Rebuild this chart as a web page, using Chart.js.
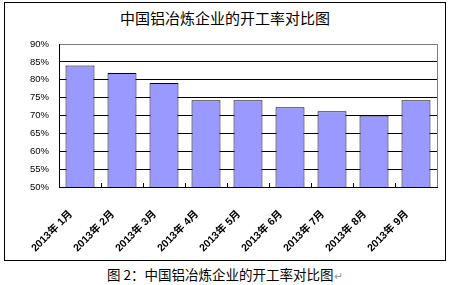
<!DOCTYPE html>
<html>
<head>
<meta charset="utf-8">
<script src="https://cdn.jsdelivr.net/npm/chart.js@4/dist/chart.umd.min.js"></script>
<style>
    body { margin: 0; width: 450px; height: 285px; background: #fff; position: relative; overflow: hidden; }
    #frame { position: absolute; left: 4px; top: 2px; width: 440px; height: 257px; border: 1px solid #000; }
    #frame canvas { display: block; }
    #title { position: absolute; left: 0; width: 450px; top: 9px; text-align: center;
        font: 15px "Noto Sans CJK SC", sans-serif; color: #000; line-height: 18px; }
    #caption { position: absolute; left: 107px; top: 265px;
        font: 13.5px "Noto Sans CJK SC", sans-serif; color: #000; line-height: 18px; white-space: nowrap; }
    #caption span { color: #999; font-size: 11px; }
</style>
</head>
<body>
<div id="title">中国铝冶炼企业的开工率对比图</div>
<div id="frame"><canvas id="rateChart" width="440" height="257"></canvas></div>
<div id="caption">图 2：中国铝冶炼企业的开工率对比图<span>↵</span></div>
<script>
// chart data
const months = ['2013年 1月', '2013年 2月', '2013年 3月', '2013年 4月', '2013年 5月',
    '2013年 6月', '2013年 7月', '2013年 8月', '2013年 9月'];
const utilization = [84.0, 81.9, 79.1, 74.3, 74.3, 72.3, 71.2, 70.0, 74.3];
const yMin = 50;
const yMax = 90;
const yStep = 5;

// small tick marks between categories (pointing into the plot) and grey right edge
const frameMarks = {
    id: 'frameMarks',
    afterDatasetsDraw(chart) {
        const { ctx, chartArea: a, scales: { x } } = chart;
        ctx.save();
        ctx.lineWidth = 1;
        ctx.strokeStyle = '#000';
        ctx.beginPath();
        for (let i = 1; i < months.length; i++) {
            const px = Math.round(x.getPixelForValue(i - 0.5)) + 0.5;
            ctx.moveTo(px, a.bottom);
            ctx.lineTo(px, a.bottom - 4);
        }
        ctx.stroke();
        ctx.strokeStyle = '#808080';
        ctx.beginPath();
        ctx.moveTo(Math.round(a.right) + 0.5, a.top);
        ctx.lineTo(Math.round(a.right) + 0.5, a.bottom);
        ctx.stroke();
        ctx.restore();
    }
};

const ctx = document.getElementById('rateChart').getContext('2d');
new Chart(ctx, {
    type: 'bar',
    data: {
        labels: months,
        datasets: [{
            data: utilization,
            backgroundColor: '#9999FF',
            borderColor: '#000',
            borderWidth: 1,
            categoryPercentage: 1,
            barPercentage: 0.69
        }]
    },
    options: {
        responsive: false,
        animation: false,
        layout: { padding: { left: 0, right: 8, top: 41, bottom: 0 } },
        plugins: {
            legend: { display: false },
            title: { display: false },
            tooltip: { enabled: false }
        },
        scales: {
            x: {
                grid: { display: false },
                border: { display: true, color: '#000', width: 1 },
                ticks: {
                    autoSkip: false,
                    minRotation: 45,
                    maxRotation: 45,
                    padding: 13,
                    labelOffset: -9,
                    color: '#000',
                    font: { family: '"Liberation Sans", "Noto Sans CJK SC"', size: 10.5, weight: 'bold' }
                },
                afterFit(scale) { scale.height = 73; }
            },
            y: {
                min: yMin,
                max: yMax,
                grid: {
                    drawTicks: false,
                    color: (c) => (c.tick && c.tick.value === yMax ? '#808080' : '#000'),
                    lineWidth: 1
                },
                border: { display: true, color: '#000', width: 1 },
                ticks: {
                    stepSize: yStep,
                    padding: 10,
                    color: '#000',
                    font: { family: '"Liberation Sans", sans-serif', size: 9.5 },
                    callback: (v) => v + '%'
                },
                afterFit(scale) { scale.width = 54; }
            }
        }
    },
    plugins: [frameMarks]
});
</script>
</body>
</html>
